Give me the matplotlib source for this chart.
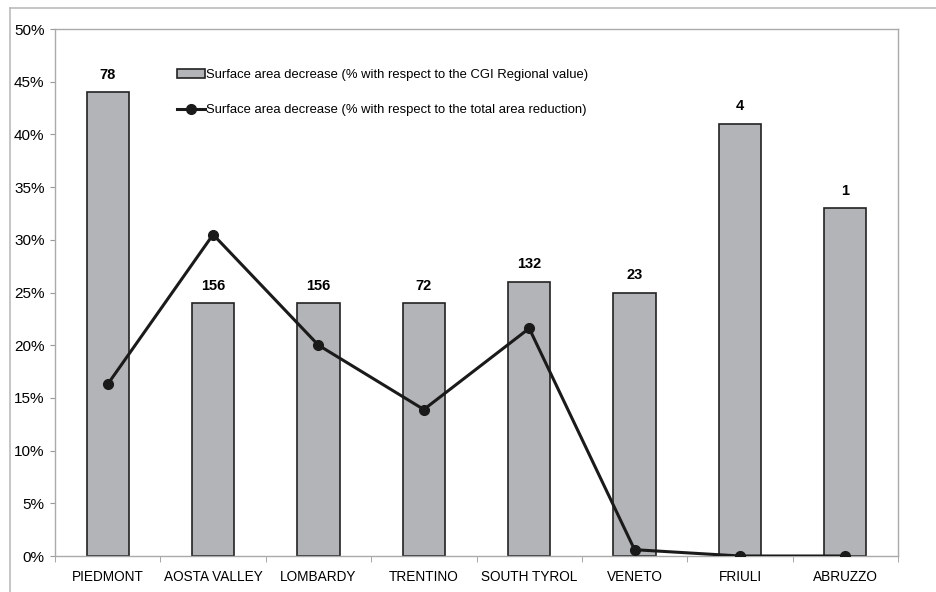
import numpy as np
import matplotlib.pyplot as plt
from matplotlib.ticker import FuncFormatter, MultipleLocator

regions = ['PIEDMONT', 'AOSTA VALLEY', 'LOMBARDY', 'TRENTINO',
           'SOUTH TYROL', 'VENETO', 'FRIULI', 'ABRUZZO']
bar_vals = [44, 24, 24, 24, 26, 25, 41, 33]
line_vals = [16.3, 30.5, 20.0, 13.9, 21.6, 0.6, 0.0, 0.0]
bar_labels = ['78', '156', '156', '72', '132', '23', '4', '1']

plt.rcParams['font.family'] = ['Liberation Sans', 'DejaVu Sans']

fig = plt.figure(figsize=(9.36, 5.92), dpi=100)
ax = fig.add_axes([0.0588, 0.0608, 0.9006, 0.8902])

# outer frame of the whole picture (only top and left show)
fig.add_artist(plt.Line2D([0.0105, 1.0], [0.9865, 0.9865], color='#bbbbbb', lw=1.2))
fig.add_artist(plt.Line2D([0.0105, 0.0105], [0.0, 0.9865], color='#bbbbbb', lw=1.2))

x = np.arange(len(regions))
bars = ax.bar(x, bar_vals, width=0.4, color='#b3b4b7', edgecolor='#222222', lw=1.2, zorder=2)
line, = ax.plot(x, line_vals, color='#1a1a1a', lw=2.2, marker='o', ms=7, zorder=3)

for xi, v, t in zip(x, bar_vals, bar_labels):
    ax.text(xi, v + 1.0, t, ha='center', va='bottom', fontsize=10.5, fontweight='bold')

ax.set_xlim(-0.5, len(regions) - 0.5)
ax.set_ylim(0, 50)
ax.yaxis.set_major_locator(MultipleLocator(5))
ax.yaxis.set_major_formatter(FuncFormatter(lambda v, p: '%d%%' % v))
ax.set_xticks(x)
ax.set_xticklabels(regions)
ax.set_xticks(np.arange(-0.5, len(regions), 1), minor=True)
ax.tick_params(axis='x', which='major', length=0, pad=10, labelsize=9.8)
ax.tick_params(axis='x', which='minor', length=4.5, color='#999999', direction='out')
ax.tick_params(axis='y', length=3.5, color='#999999', labelsize=11, pad=4)
for s in ax.spines.values():
    s.set_color('#aaaaaa')
    s.set_linewidth(1.0)

ax.legend([bars, line],
          ['Surface area decrease (% with respect to the CGI Regional value)',
           'Surface area decrease (% with respect to the total area reduction)'],
          loc='upper left', bbox_to_anchor=(0.145, 0.924), frameon=False,
          fontsize=9.4, handlelength=2.1, handletextpad=0.1, labelspacing=1.75,
          borderaxespad=0, borderpad=0)

fig.savefig('out.png', dpi=100)
